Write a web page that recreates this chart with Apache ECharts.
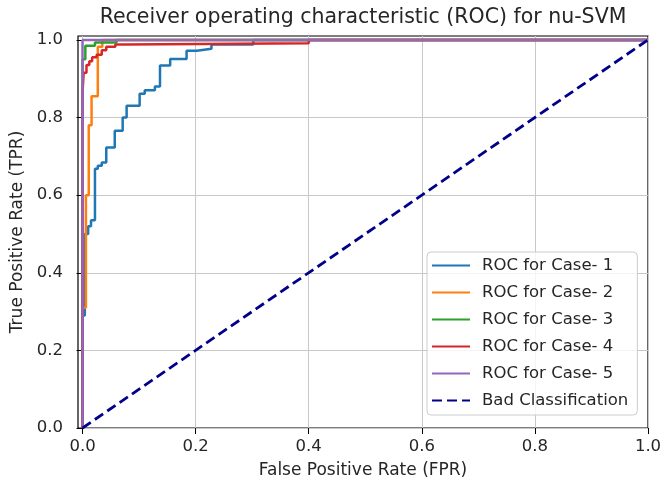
<!DOCTYPE html>
<html>
<head>
<meta charset="utf-8">
<title>ROC nu-SVM</title>
<script src="https://cdn.jsdelivr.net/npm/echarts@6/dist/echarts.min.js"></script>
<style>
html,body{margin:0;padding:0;background:#fff;}
#roc{width:667px;height:491px;}
</style>
</head>
<body>
<div id="roc"></div>
<script>
// ROC points [fpr, tpr]
var case1 = [[0,0],[0,0.29],[0.004,0.29],[0.004,0.50],[0.010,0.50],[0.010,0.52],[0.015,0.52],[0.015,0.535],
	[0.022,0.535],[0.022,0.668],[0.027,0.668],[0.027,0.676],[0.034,0.676],[0.034,0.684],[0.042,0.684],
	[0.042,0.723],[0.057,0.723],[0.057,0.766],[0.071,0.766],[0.071,0.800],[0.078,0.800],[0.078,0.83],
	[0.101,0.83],[0.101,0.861],[0.110,0.861],[0.110,0.870],[0.128,0.870],[0.128,0.88],[0.137,0.88],
	[0.137,0.934],[0.155,0.934],[0.155,0.951],[0.184,0.951],[0.184,0.972],[0.202,0.972],[0.202,0.977],
	[0.228,0.977],[0.228,0.988],[0.302,0.988],[0.302,1],[1,1]];
var case2 = [[0,0],[0,0.31],[0.006,0.31],[0.006,0.60],[0.011,0.60],[0.011,0.78],[0.016,0.78],[0.016,0.855],
	[0.027,0.855],[0.027,0.982],[0.035,0.982],[0.035,1],[1,1]];
var case3 = [[0,0],[0,0.95],[0.005,0.95],[0.005,0.985],[0.022,0.985],[0.022,0.993],[0.06,0.993],[0.06,1],[1,1]];
var case4 = [[0,0],[0,0.863],[0.002,0.863],[0.002,0.915],[0.007,0.915],[0.007,0.935],[0.012,0.935],[0.012,0.945],
	[0.017,0.945],[0.017,0.955],[0.025,0.955],[0.025,0.962],[0.034,0.962],[0.034,0.973],[0.042,0.973],
	[0.042,0.982],[0.058,0.982],[0.058,0.988],[0.075,0.988],[0.075,0.991],[0.40,0.991],[0.40,1],[1,1]];
var case5 = [[0,0],[0,1],[1,1]];
var chance = [[0,0],[1,1]];

var names = ['ROC for Case- 1','ROC for Case- 2','ROC for Case- 3','ROC for Case- 4','ROC for Case- 5','Bad Classification'];
var colors = ['#1f77b4','#ff7f0e','#2ca02c','#d62728','#9467bd','#00008b'];
var xTicks = [0,0.2,0.4,0.6,0.8,1.0];
var yTicks = [0,0.2,0.4,0.6,0.8,1.0];

var font = 'DejaVu Sans';
var ink = '#262626';

window.onload = function(){
	var myChart = echarts.init(document.getElementById('roc'));
	var curves = [case1,case2,case3,case4,case5];
	var series = [];
	for(var i=0;i<curves.length;i++){
		series.push({
			name: names[i],
			type: 'line',
			data: curves[i],
			symbol: 'none',
			lineStyle: {color: colors[i], width: 2.5},
			itemStyle: {color: colors[i]}
		});
	}
	//对角线
	series.push({
		name: names[5],
		type: 'line',
		data: chance,
		symbol: 'none',
		lineStyle: {color: colors[5], width: 2.8, type: [10,5]},
		itemStyle: {color: colors[5]}
	});
	//x方向网格线
	var gridLines = [];
	for(var k=0;k<xTicks.length;k++){
		gridLines.push({xAxis: xTicks[k]});
	}
	series[0].markLine = {
		silent: true,
		symbol: 'none',
		z: 1,
		label: {show: false},
		lineStyle: {color: '#c8c8c8', width: 1, type: 'solid'},
		data: gridLines
	};

	var option = {
		animation: false,
		title: {
			text: 'Receiver operating characteristic (ROC) for nu-SVM',
			left: 358,
			top: 2,
			textAlign: 'center',
			textStyle: {fontFamily: font, fontSize: 20.5, fontWeight: 'normal', color: ink}
		},
		grid: {
			left: 78, right: 19, top: 36, bottom: 63,
			show: true, borderColor: '#000', borderWidth: 1.2, backgroundColor: '#fff'
		},
		legend: {
			orient: 'vertical',
			left: 427,
			top: 252,
			padding: [5,9,6,4],
			itemWidth: 38,
			itemHeight: 14,
			itemGap: 10,
			backgroundColor: 'rgba(255,255,255,0.8)',
			borderColor: '#cccccc',
			borderWidth: 1,
			borderRadius: 4,
			itemStyle: {opacity: 0},
			textStyle: {fontFamily: font, fontSize: 16.5, color: ink, padding: [0,0,0,7]},
			data: names
		},
		xAxis: {
			type: 'value',
			min: -0.008,
			max: 1.0,
			name: 'False Positive Rate (FPR)',
			nameLocation: 'middle',
			nameGap: 34,
			nameTextStyle: {fontFamily: font, fontSize: 17, color: ink},
			axisLine: {show: false},
			axisTick: {show: true, length: 6, customValues: xTicks, lineStyle: {color: '#000'}},
			axisLabel: {
				customValues: xTicks, margin: 10,
				fontFamily: font, fontSize: 16.5, color: ink,
				formatter: function(v){ return v.toFixed(1); }
			},
			splitLine: {show: false}
		},
		yAxis: {
			type: 'value',
			min: 0,
			max: 1.01,
			interval: 0.2,
			name: 'True Positive Rate (TPR)',
			nameLocation: 'middle',
			nameGap: 50,
			nameTextStyle: {fontFamily: font, fontSize: 17, color: ink},
			axisLine: {show: false},
			axisTick: {show: true, length: 6, customValues: yTicks, lineStyle: {color: '#000'}},
			axisLabel: {
				customValues: yTicks, margin: 15,
				fontFamily: font, fontSize: 16.5, color: ink,
				formatter: function(v){ return v.toFixed(1); }
			},
			splitLine: {show: true, lineStyle: {color: '#c8c8c8', width: 1}}
		},
		series: series
	};
	myChart.setOption(option, true);
};
</script>
</body>
</html>
